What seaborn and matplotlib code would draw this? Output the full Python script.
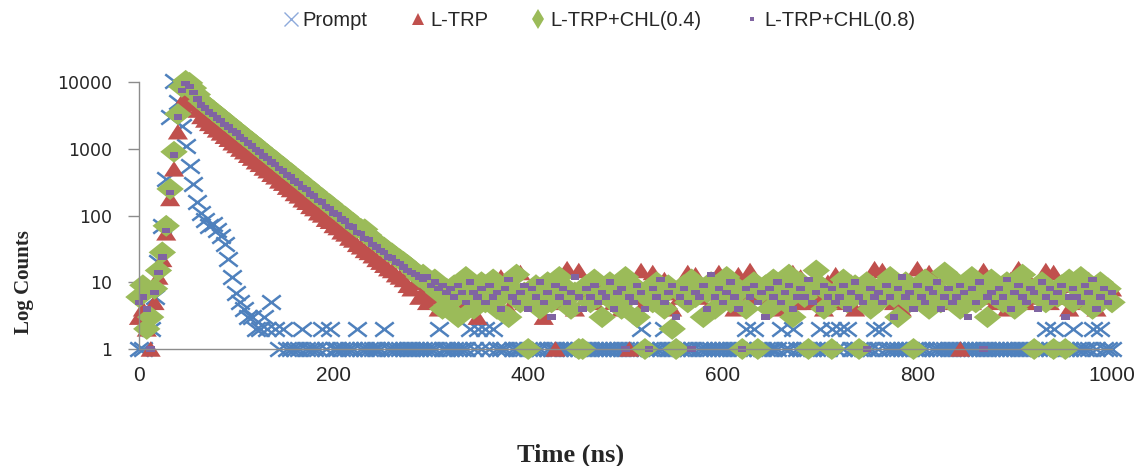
import numpy as np
import pandas as pd
import matplotlib
matplotlib.use("Agg")
import matplotlib.pyplot as plt
from matplotlib.markers import MarkerStyle
from matplotlib.transforms import Affine2D
from matplotlib.lines import Line2D
import seaborn as sns

# time channels (ns), 4 ns per channel
time_ns = np.arange(0, 1001, 4)

prompt = [
    1, 1, 0, 2, 6, 20, 70, 350, 3000, 10500,
    5000, 2200, 1100, 550, 300, 160, 110, 85, 70, 75,
    60, 50, 38, 22, 12, 7, 5, 4, 3, 3,
    2, 2, 3, 2, 5, 2, 1, 2, 1, 1,
    1, 1, 2, 1, 1, 1, 1, 2, 1, 2,
    1, 1, 1, 1, 1, 1, 2, 1, 1, 1,
    1, 1, 1, 2, 1, 1, 1, 1, 1, 1,
    1, 1, 1, 1, 1, 1, 1, 2, 1, 1,
    1, 1, 1, 1, 1, 2, 1, 2, 1, 2,
    1, 2, 1, 1, 1, 0, 1, 1, 1, 1,
    1, 1, 1, 1, 0, 1, 1, 1, 1, 1,
    1, 1, 1, 1, 1, 1, 1, 1, 1, 1,
    1, 1, 1, 1, 1, 1, 1, 1, 1, 2,
    1, 1, 1, 1, 1, 2, 1, 1, 1, 1,
    1, 1, 1, 0, 1, 1, 1, 1, 1, 1,
    1, 1, 1, 1, 1, 1, 2, 1, 2, 1,
    1, 1, 1, 1, 1, 2, 1, 1, 2, 1,
    1, 1, 1, 1, 1, 2, 1, 1, 2, 1,
    2, 1, 2, 1, 1, 1, 1, 1, 1, 2,
    1, 2, 1, 1, 1, 1, 1, 1, 1, 1,
    1, 1, 1, 0, 1, 1, 1, 1, 1, 1,
    1, 1, 1, 1, 1, 1, 1, 1, 1, 1,
    1, 1, 1, 1, 1, 1, 1, 1, 1, 1,
    1, 1, 1, 2, 1, 2, 1, 1, 1, 1,
    2, 1, 1, 1, 1, 2, 1, 2, 1, 1,
    1]

l_trp = [
    3, 4, 2, 1, 5, 12, 22, 55, 180, 500,
    1800, 4500, 6200, 5700, 4700, 3800, 3050, 2700, 2400, 2170,
    1920, 1730, 1540, 1390, 1230, 1120, 990, 905, 800, 725,
    640, 585, 515, 470, 415, 380, 330, 305, 266, 245,
    214, 197, 172, 158, 137, 127, 110, 102, 88, 82,
    71, 66, 57, 53, 46, 43, 37, 34, 30, 28,
    25, 22, 20, 18, 16, 15, 13, 12, 11, 9,
    8, 10, 6, 7, 5, 9, 6, 4, 8, 7,
    5, 9, 7, 4, 11, 6, 8, 3, 7, 10,
    6, 8, 5, 12, 7, 4, 9, 6, 14, 5,
    8, 5, 10, 7, 3, 9, 6, 1, 8, 5,
    16, 7, 4, 15, 9, 6, 8, 5, 11, 7,
    6, 9, 5, 8, 4, 10, 1, 7, 6, 15,
    5, 8, 14, 9, 6, 11, 7, 4, 8, 6,
    10, 14, 7, 13, 6, 9, 4, 8, 5, 14,
    7, 6, 9, 4, 13, 8, 5, 15, 6, 8,
    6, 8, 5, 10, 4, 7, 9, 6, 14, 5,
    12, 7, 5, 9, 6, 8, 4, 10, 7, 13,
    5, 8, 6, 10, 4, 9, 7, 5, 8, 16,
    6, 15, 7, 9, 5, 8, 4, 10, 7, 6,
    16, 7, 5, 14, 8, 6, 9, 15, 5, 7,
    8, 1, 6, 10, 5, 9, 7, 15, 6, 8,
    5, 9, 7, 4, 11, 6, 16, 8, 5, 10,
    7, 6, 9, 15, 5, 14, 8, 6, 10, 4,
    9, 6, 8, 5, 11, 7, 4, 10, 6, 9,
    8]

chl_04 = [
    6, 9, 2, 3, 8, 15, 28, 70, 250, 900,
    3300, 8500, 10400, 9700, 8100, 6500, 5200, 4650, 4150, 3750,
    3350, 3020, 2680, 2430, 2160, 1950, 1740, 1570, 1400, 1270,
    1130, 1020, 905, 820, 730, 665, 585, 535, 470, 432,
    378, 346, 304, 280, 245, 225, 195, 181, 158, 147,
    127, 118, 102, 96, 82, 77, 66, 63, 62, 51,
    44, 40, 36, 33, 29, 27, 24, 22, 20, 18,
    16, 14, 12, 13, 10, 9, 11, 7, 4, 8,
    5, 9, 3, 7, 12, 6, 4, 8, 10, 5,
    7, 11, 4, 6, 9, 3, 8, 13, 5, 7,
    1, 6, 9, 4, 8, 10, 5, 7, 12, 6,
    8, 4, 7, 1, 1, 9, 5, 11, 6, 3,
    7, 10, 5, 8, 4, 12, 6, 9, 3, 7,
    1, 8, 5, 10, 6, 4, 9, 2, 1, 7,
    9, 5, 11, 6, 8, 3, 7, 10, 4, 8,
    6, 12, 5, 9, 7, 1, 4, 8, 10, 1,
    7, 9, 4, 11, 6, 8, 5, 13, 3, 7,
    10, 6, 1, 8, 15, 9, 4, 7, 1, 6,
    8, 11, 5, 7, 9, 1, 6, 10, 4, 8,
    5, 9, 7, 12, 6, 3, 8, 10, 5, 1,
    7, 6, 11, 4, 9, 8, 5, 14, 6, 7,
    10, 4, 8, 6, 12, 5, 9, 7, 3, 11,
    6, 8, 5, 10, 7, 4, 9, 13, 6, 8,
    1, 7, 10, 5, 8, 1, 6, 9, 1, 11,
    5, 8, 12, 6, 9, 4, 7, 10, 6, 8,
    5]

chl_08 = [
    5, 6, 4, 1, 7, 14, 24, 60, 220, 800,
    3000, 7500, 9500, 8600, 7000, 5600, 4500, 4100, 3580, 3280,
    2890, 2650, 2310, 2130, 1870, 1710, 1500, 1380, 1210, 1110,
    970, 895, 780, 720, 630, 580, 505, 468, 405, 378,
    326, 304, 262, 245, 211, 197, 168, 158, 136, 128,
    109, 103, 88, 83, 70, 67, 56, 54, 45, 44,
    37, 34, 30, 28, 24, 23, 20, 19, 17, 15,
    14, 13, 12, 11, 12, 9, 10, 8, 9, 7,
    8, 6, 9, 7, 5, 10, 7, 6, 8, 5,
    9, 6, 7, 4, 8, 11, 6, 5, 7, 9,
    4, 8, 6, 10, 5, 7, 3, 9, 6, 8,
    5, 7, 12, 6, 4, 8, 6, 9, 5, 7,
    6, 10, 4, 7, 8, 1, 6, 5, 9, 7,
    4, 1, 8, 6, 11, 5, 7, 9, 3, 6,
    8, 5, 1, 7, 6, 9, 4, 13, 6, 8,
    5, 7, 10, 6, 4, 1, 8, 6, 9, 5,
    7, 3, 8, 6, 10, 5, 7, 9, 4, 6,
    8, 6, 11, 5, 7, 4, 9, 6, 8, 5,
    6, 9, 4, 7, 10, 6, 5, 1, 8, 6,
    7, 5, 9, 6, 3, 8, 12, 6, 7, 4,
    9, 6, 5, 8, 7, 10, 4, 6, 8, 5,
    6, 9, 7, 3, 8, 5, 10, 1, 6, 7,
    5, 8, 6, 11, 4, 7, 9, 6, 5, 8,
    7, 4, 10, 6, 8, 5, 7, 9, 3, 6,
    8, 6, 5, 9, 7, 11, 4, 6, 8, 5,
    7]

series_names = ["Prompt", "L-TRP", "L-TRP+CHL(0.4)", "L-TRP+CHL(0.8)"]
series_vals = [prompt, l_trp, chl_04, chl_08]

# estilos de cada serie (colores Excel 2007, marcadores algo anchos)
colores = {"Prompt": "#4F81BD", "L-TRP": "#C0504D",
           "L-TRP+CHL(0.4)": "#9BBB59", "L-TRP+CHL(0.8)": "#8064A2"}
marcadores = {"Prompt": MarkerStyle("x", transform=Affine2D().scale(1.3, 1.0)),
              "L-TRP": MarkerStyle("^", transform=Affine2D().scale(1.3, 1.0)),
              "L-TRP+CHL(0.4)": MarkerStyle("D", transform=Affine2D().scale(1.25, 1.0)),
              "L-TRP+CHL(0.8)": MarkerStyle("s", transform=Affine2D().scale(1.3, 0.85))}
tamanos = {"Prompt": 105, "L-TRP": 125, "L-TRP+CHL(0.4)": 125, "L-TRP+CHL(0.8)": 22}
# marcadores de la leyenda
ley_marc = {"Prompt": ("x", 10), "L-TRP": ("^", 9),
            "L-TRP+CHL(0.4)": ("d", 10), "L-TRP+CHL(0.8)": ("s", 3.5)}

sns.set_style("white")
plt.rcParams['font.family'] = ['DejaVu Sans']

fig, ax = plt.subplots(figsize=(11.41, 4.66), dpi=100)
fig.subplots_adjust(left=0.1218, right=0.9746, bottom=0.2511, top=0.824)

for name, vals in zip(series_names, series_vals):
    df = pd.DataFrame({"t": time_ns, "c": vals})
    df = df[df.c > 0]  # zero counts do not show on a log axis
    if name == "Prompt":
        sns.scatterplot(data=df, x="t", y="c", ax=ax, color=colores[name],
                        marker=marcadores[name], s=tamanos[name], linewidth=1.8,
                        clip_on=False)
    else:
        sns.scatterplot(data=df, x="t", y="c", ax=ax, color=colores[name],
                        marker=marcadores[name], s=tamanos[name],
                        edgecolor="none", linewidth=0, clip_on=False)

ax.set_yscale("log")
ax.set_ylim(1, 10000)
ax.set_xlim(0, 1000)
ax.set_yticks([1, 10, 100, 1000, 10000])
ax.set_yticklabels(["1", "10", "100", "1000", "10000"])
ax.minorticks_off()
ax.set_xticks(range(0, 1001, 200))
ax.set_xlabel("")
ax.set_ylabel("")

for s in ["top", "right"]:
    ax.spines[s].set_visible(False)
for s in ["left", "bottom"]:
    ax.spines[s].set_color("#8c8c8c")
    ax.spines[s].set_linewidth(1)

ax.tick_params(axis="y", direction="out", length=8, width=1, color="#8c8c8c",
               labelsize=12.5, pad=11, left=True)
ax.tick_params(axis="x", length=0, labelsize=15, pad=12)
for lab in ax.get_xticklabels():
    lab.set_family("Liberation Sans")

handles = []
for name in series_names:
    m, ms = ley_marc[name]
    if m == "x":
        h = Line2D([], [], linestyle="none", marker=m, markersize=ms,
                   markeredgewidth=1.0, color="#8EAADB")
    else:
        h = Line2D([], [], linestyle="none", marker=m, markersize=ms,
                   markeredgewidth=0, color=colores[name])
    handles.append(h)
fig.legend(handles, series_names, loc="center", bbox_to_anchor=(0.524, 0.955), ncol=4,
           frameon=False, prop={"family": "Liberation Sans", "size": 14.5},
           handletextpad=0.1, columnspacing=2.0, handlelength=1.0)

fig.text(0.021, 0.395, "Log Counts", rotation=90, ha="center", va="center",
         family="Liberation Serif", weight="bold", size=15)
fig.text(0.5, 0.024, "Time (ns)", ha="center", va="center",
         family="Liberation Serif", weight="bold", size=19)

plt.savefig("out.png", dpi=100)
